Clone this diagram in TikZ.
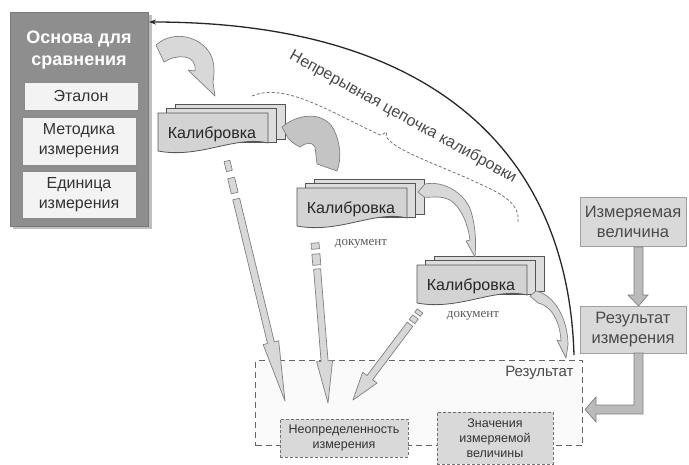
\documentclass[tikz,border=0pt]{standalone}
\usepackage{fontspec}
\setmainfont{Liberation Sans}
\newfontfamily\serifdoc{Liberation Serif}
\usetikzlibrary{calc,arrows.meta}
\definecolor{bigfill}{HTML}{8E8E8E}
\definecolor{bigdraw}{HTML}{7A7A7A}
\definecolor{innerfill}{HTML}{F3F3F3}
\definecolor{innerdraw}{HTML}{8A8A8A}
\definecolor{calfill}{HTML}{D3D3D3}
\definecolor{layerfill}{HTML}{DDDDDD}
\definecolor{caldraw}{HTML}{555555}
\definecolor{rbfill}{HTML}{D9D9D9}
\definecolor{rbdraw}{HTML}{A0A0A0}
\definecolor{arrfill}{HTML}{D8D8D8}
\definecolor{arrdark}{HTML}{C4C4C4}
\definecolor{arrdraw}{HTML}{808080}
\definecolor{varrfill}{HTML}{BBBBBB}
\definecolor{txtdark}{HTML}{333333}
\definecolor{txtmid}{HTML}{4A4A4A}
\tikzset{
  bigbox/.style={draw=bigdraw, fill=bigfill, line width=0.8pt},
  innerbox/.style={draw=innerdraw, fill=innerfill, line width=0.8pt, align=center,
    font=\fontsize{16}{20}\selectfont, text=txtdark, inner sep=0pt},
  callayer/.style={draw=caldraw, fill=layerfill, line width=0.8pt},
  calfront/.style={draw=caldraw, fill=calfill, line width=0.8pt},
  caltext/.style={font=\fontsize{16}{19}\selectfont, text=black!85, inner sep=0pt},
  rbox/.style={draw=rbdraw, fill=rbfill, line width=0.8pt, align=center,
    font=\fontsize{16.5}{20}\selectfont, text=txtmid, inner sep=0pt},
  fatstyle/.style={draw=arrdraw, fill=arrfill, line width=0.7pt, line join=round},
  vfat/.style={draw=arrdraw, fill=varrfill, line width=0.7pt},
  resbox/.style={draw=black!60, fill=black!2, dash pattern=on 6pt off 4pt, line width=1.1pt, inner sep=0pt},
  smallbox/.style={draw=black!55, fill=rbfill, dash pattern=on 3pt off 2pt, line width=0.8pt, align=center,
    font=\fontsize{12.5}{15}\selectfont, text=txtdark, inner sep=0pt},
  doclabel/.style={font=\serifdoc\fontsize{13}{15}\selectfont, text=black!65},
  chaindash/.style={draw=black!55, dash pattern=on 3pt off 2pt, line width=0.8pt},
  arcline/.style={draw=black!85, line width=1.3pt}
}
\newcommand\calib[3]{%
  \draw[callayer] ({#2+17},{#3-9}) rectangle ({#2+127},{#3+26});
  \draw[callayer] ({#2+8},{#3-5}) rectangle ({#2+118},{#3+29});
  \draw[calfront] (#2,#3) -- ({#2+110},#3) -- ({#2+110},{#3+30})
     .. controls ({#2+78},{#3+22}) and ({#2+42},{#3+46}) .. (#2,{#3+38}) -- cycle;
  \node[caltext] (#1) at ({#2+54},{#3+21}) {Калибровка};
}
\newcommand\fatarr[5]{%
  \path ($(#2)!#5!(#1)$) coordinate (H);
  \draw[fatstyle] ($(#1)!#3!90:(#2)$) -- ($(H)!#3!90:(#2)$) -- ($(H)!#4!90:(#2)$) -- (#2)
    -- ($(H)!#4!-90:(#2)$) -- ($(H)!#3!-90:(#2)$) -- ($(#1)!#3!-90:(#2)$) -- cycle;
}
\newcommand\fatseg[3]{%
  \draw[fatstyle] ($(#1)!#3!90:(#2)$) -- ($(#2)!#3!-90:(#1)$) -- ($(#2)!#3!90:(#1)$) -- ($(#1)!#3!-90:(#2)$) -- cycle;
}
\begin{document}
\begin{tikzpicture}[x=1pt,y=-1pt]
\useasboundingbox (0,0) rectangle (689,464);

% ---------- left block ----------
\fill[black!25] (13,15) rectangle (152,229);
\node[bigbox, anchor=north west, minimum width=138pt, minimum height=214pt, inner sep=0pt] (base) at (10,12) {};
\node[font=\bfseries\fontsize{18}{22}\selectfont, text=white, align=center] (title) at (79,50) {Основа для\\сравнения};
\node[innerbox, minimum width=114pt, minimum height=28pt] (etalon) at (81,96) {Эталон};
\node[innerbox, minimum width=114pt, minimum height=48pt] (method) at (79,141) {Методика\\измерения};
\node[innerbox, minimum width=114pt, minimum height=47pt] (unit) at (79,194.5) {Единица\\измерения};

% ---------- result area ----------
\node[resbox, anchor=north west, minimum width=327pt, minimum height=85pt] (result) at (255,360) {};
\node[anchor=east, font=\fontsize{15}{18}\selectfont, text=txtmid] (reslab) at (577,373) {Результат};

% ---------- chain ----------
\draw[chaindash] (252,96) .. controls (285,82) and (330,112) .. (380,135)
   .. controls (384,136) and (388,127) .. (386,136)
   .. controls (392,150) and (440,165) .. (480,184)
   .. controls (505,195) and (520,205) .. (518,222);
\node[rotate=-29, font=\fontsize{16}{19}\selectfont, text=txtmid] (chain) at (403,117) {Непрерывная цепочка калибровки};

% ---------- big arc ----------
\coordinate (arcstart) at (574,355);
\coordinate (arcend) at (149,22);
\draw[arcline, -{Stealth[length=7pt,width=5pt]}] (arcstart) .. controls (568,150) and (430,22) .. (arcend);

% ---------- calibrations ----------
\calib{cal1}{158}{113}
\calib{cal2}{297}{188}
\calib{cal3}{417}{265}
\node[doclabel] (doc1) at (361,244) {документ};
\node[doclabel] (doc2) at (473,316) {документ};

% ---------- curved arrows ----------
\draw[fatstyle] (156,45) .. controls (175,28) and (205,38) .. (212,58)
  .. controls (215,66) and (214,75) .. (213,82) -- (215,96) -- (188,70) -- (195,71)
  .. controls (196,63) and (192,58) .. (185,57) .. controls (178,56) and (170,58) .. (164,62) -- cycle;
\draw[fatstyle, fill=arrdark] (282,127) .. controls (300,112) and (325,112) .. (334,130)
  .. controls (340,142) and (342,158) .. (337,171) -- (317,164) -- (315,147)
  .. controls (312,141) and (305,143) .. (300,147) .. controls (296,145) and (291,142) .. (288,138) -- cycle;
\draw[fatstyle] (418,192) -- (425,184) .. controls (445,180) and (468,195) .. (472,215)
  .. controls (476,230) and (476,245) .. (475,257) -- (466,241) -- (470,240)
  .. controls (468,225) and (462,208) .. (450,200) .. controls (440,195) and (430,198) .. (424,197) -- cycle;
\draw[fatstyle] (530,296) -- (536,291) .. controls (555,295) and (568,320) .. (568,345)
  -- (566,358) -- (557,340) -- (561,341)
  .. controls (560,320) and (550,305) .. (538,303) -- cycle;

% ---------- long arrows ----------
\coordinate (a1s1) at (227,161); \coordinate (a1s2) at (229.4,171);
\coordinate (a1t1) at (231.1,178); \coordinate (a1t2) at (234.7,193);
\coordinate (a1a) at (236.2,199); \coordinate (a1b) at (285,401);
\fatseg{a1s1}{a1s2}{3pt}
\fatseg{a1t1}{a1t2}{3.5pt}
\fatarr{a1a}{a1b}{3.5pt}{8pt}{60pt}

\coordinate (a2s1) at (315,243); \coordinate (a2s2) at (315.5,249);
\coordinate (a2t1) at (315.9,254); \coordinate (a2t2) at (316.8,265);
\coordinate (a2a) at (317.1,269); \coordinate (a2b) at (328,403);
\fatseg{a2s1}{a2s2}{4pt}
\fatseg{a2t1}{a2t2}{4pt}
\fatarr{a2a}{a2b}{3.5pt}{8pt}{42pt}

\coordinate (a3s1) at (420,311); \coordinate (a3s2) at (417.5,314.3);
\coordinate (a3t1) at (415.5,317); \coordinate (a3t2) at (412,321.6);
\coordinate (a3a) at (410,324.3); \coordinate (a3b) at (353,400);
\fatseg{a3s1}{a3s2}{3.5pt}
\fatseg{a3t1}{a3t2}{3.5pt}
\fatarr{a3a}{a3b}{3.5pt}{9pt}{28pt}

% ---------- inner result boxes ----------
\node[smallbox, minimum width=128pt, minimum height=38pt] (unc) at (344,438) {Неопределенность\\измерения};
\node[smallbox, minimum width=116pt, minimum height=52pt] (val) at (495,438) {Значения\\измеряемой\\величины};

% ---------- right side ----------
\node[rbox, minimum width=106pt, minimum height=49pt] (meas) at (633,222) {Измеряемая\\величина};
\node[rbox, minimum width=106pt, minimum height=47pt] (resm) at (633,329.5) {Результат\\измерения};
\coordinate (vb) at (638.5,306);
\draw[vfat] (634,247) -- (643,247) -- (643,295) -- (648,295) -- (vb) -- (628,295) -- (634,295) -- cycle;
\draw[vfat] (634,353) -- (643,353) -- (643,414) -- (596,414) -- (596,422) -- (585,409.5) -- (596,397) -- (596,405) -- (634,405) -- cycle;
\end{tikzpicture}
\end{document}
